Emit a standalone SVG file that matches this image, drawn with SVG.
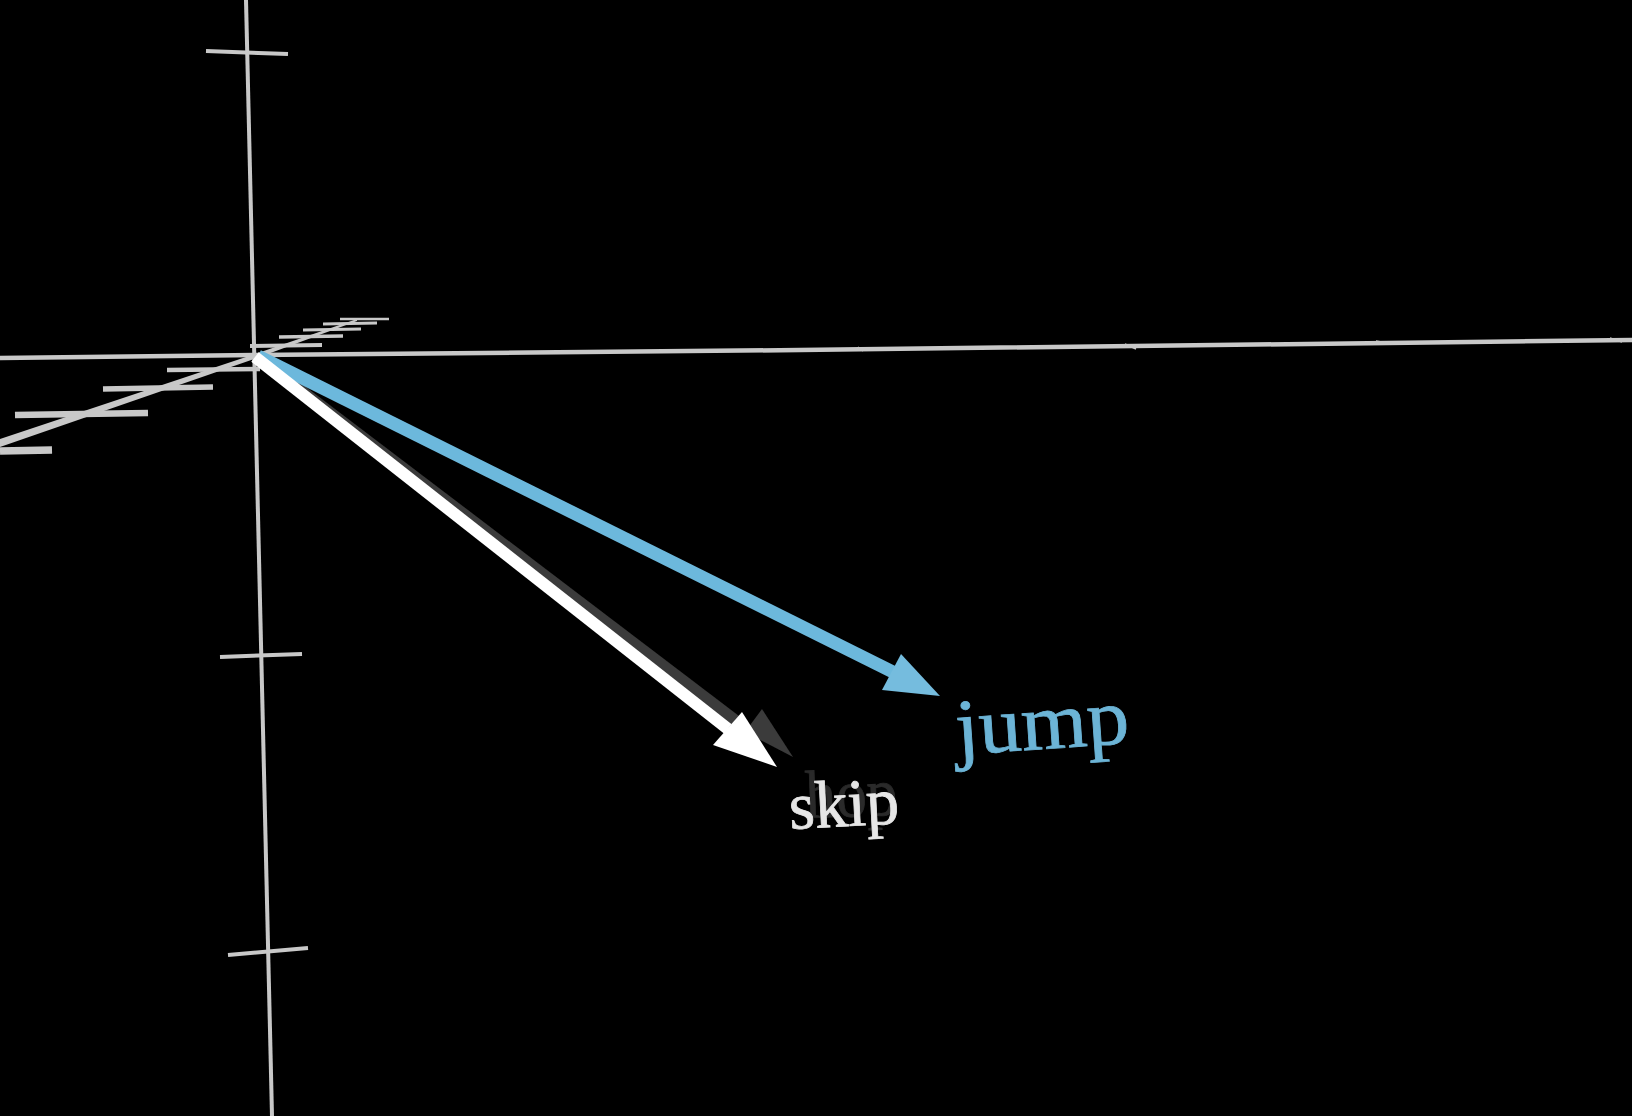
<svg xmlns="http://www.w3.org/2000/svg" width="1632" height="1116" viewBox="0 0 1632 1116">
<defs><filter id="soft" x="-5%" y="-5%" width="110%" height="110%"><feGaussianBlur stdDeviation="0.7"/></filter></defs>
<style>
.ax{stroke:#c8c8c8;fill:none;stroke-linecap:butt}
.lbl{font-family:"Liberation Serif","Times New Roman",serif}
</style>
<rect width="1632" height="1116" fill="#000"/>
<g id="axes" filter="url(#soft)">
<path class="ax" stroke-width="4" d="M246 0L272 1116"/>
<path class="ax" stroke-width="4.5" d="M0 358L255 355L800 350L1632 340"/>
<polygon points="0,439 255,354 357,319 357,321 257,358 0,447" fill="#c8c8c8"/>
<path class="ax" stroke-width="4" d="M206 51L288 54M220 657L302 654M228 955L308 948"/>
<path class="ax" stroke-width="1.5" d="M858 347L863 351M1125 344L1136 349M1376 341L1393 344M1610 338L1622 342"/>
<path class="ax" stroke-width="7.5" d="M0 451L52 450"/>
<path class="ax" stroke-width="6.5" d="M15 415L148 413"/>
<path class="ax" stroke-width="5.5" d="M103 389L213 387"/>
<path class="ax" stroke-width="4.5" d="M167 370L260 369"/>
<path class="ax" stroke-width="4" d="M250 346L322 345"/>
<path class="ax" stroke-width="3.5" d="M279 337L343 336"/>
<path class="ax" stroke-width="3" d="M303 330L361 329"/>
<path class="ax" stroke-width="3" d="M323 324L377 323"/>
<path class="ax" stroke-width="2.5" d="M340 319L389 319"/>
</g>
<g id="connectors" filter="url(#soft)">
<g id="hop-arrow"><path d="M258 358L745 728" stroke="#3a3a3a" stroke-width="12" fill="none"/><polygon points="793,757 762,709 745,732" fill="#3a3a3a"/></g>
<g id="jump-arrow"><path d="M258 356L893 672" stroke="#6cb8dc" stroke-width="13" fill="none"/><polygon points="940,696 901,654 882,690" fill="#74bcde"/></g>
<g id="skip-arrow"><path d="M255 357L728 729" stroke="#fff" stroke-width="12" fill="none"/><polygon points="777,767 742,712 713,745" fill="#fff"/></g>
</g>
<g id="hop"><text class="lbl" x="806" y="818" font-size="68" fill="#2a2a2a" stroke="#2a2a2a" stroke-width="0.8" textLength="92" lengthAdjust="spacingAndGlyphs" transform="rotate(-2 806 818)">hop</text></g>
<g id="skip"><text class="lbl" x="790" y="829" font-size="67" fill="#e6e6e6" stroke="#e6e6e6" stroke-width="0.8" textLength="110" lengthAdjust="spacingAndGlyphs" transform="rotate(-3 790 829)">skip</text></g>
<g id="jump"><text class="lbl" x="957" y="755" font-size="80" fill="#6cb4d6" stroke="#6cb4d6" stroke-width="0.8" textLength="174" lengthAdjust="spacingAndGlyphs" transform="rotate(-4 957 755)">jump</text></g>
</svg>
